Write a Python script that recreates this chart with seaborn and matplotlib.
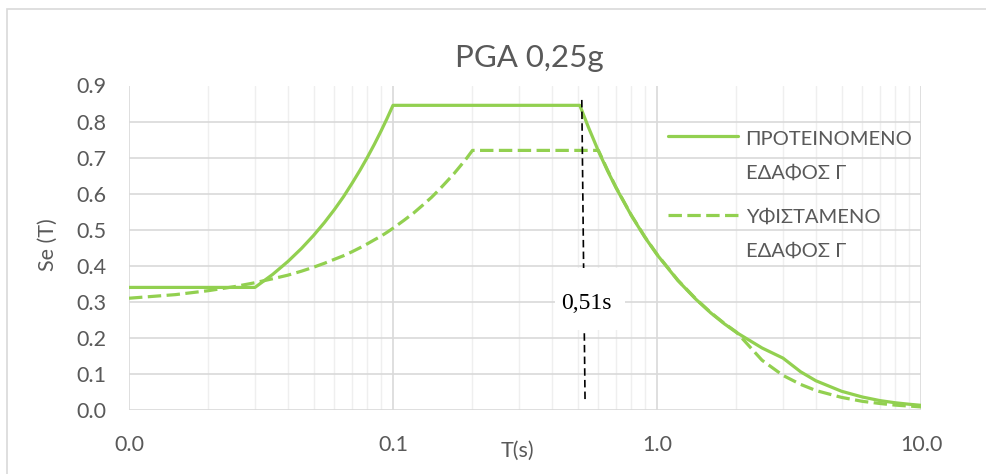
import numpy as np
import pandas as pd
import matplotlib
matplotlib.use("Agg")
import matplotlib.pyplot as plt
import seaborn as sns
from matplotlib.ticker import FixedLocator, LogLocator, NullFormatter, FixedFormatter
from matplotlib.legend_handler import HandlerLine2D
from matplotlib.patches import Rectangle

# ---------------- data ----------------
T_proposed = [0.01, 0.02, 0.03, 0.035, 0.04, 0.045, 0.05, 0.055, 0.06, 0.065, 0.07, 0.075, 0.08,
              0.085, 0.09, 0.095, 0.10, 0.20, 0.30, 0.40, 0.51, 0.55, 0.60, 0.65, 0.70, 0.80, 0.90,
              1.0, 1.2, 1.4, 1.6, 1.8, 2.0, 2.5, 3.0, 3.5, 4.0, 5.0, 6.0, 7.0, 8.0, 9.0, 10.0]
Se_proposed = [0.34, 0.34, 0.34, 0.376, 0.412, 0.448, 0.484, 0.520, 0.556, 0.592, 0.629, 0.665, 0.701,
               0.737, 0.773, 0.809, 0.845, 0.845, 0.845, 0.845, 0.845, 0.784, 0.718, 0.663, 0.616,
               0.539, 0.479, 0.431, 0.359, 0.308, 0.269, 0.239, 0.215, 0.172, 0.144, 0.106, 0.081,
               0.052, 0.036, 0.026, 0.020, 0.016, 0.013]

T_existing = [0.01, 0.015, 0.02, 0.025, 0.03, 0.035, 0.04, 0.045, 0.05, 0.055, 0.06, 0.065, 0.07,
              0.075, 0.08, 0.085, 0.09, 0.095, 0.10, 0.11, 0.12, 0.13, 0.14, 0.15, 0.16, 0.17, 0.18,
              0.19, 0.20, 0.30, 0.40, 0.50, 0.60, 0.65, 0.70, 0.80, 0.90, 1.0, 1.2, 1.4, 1.6, 1.8,
              2.0, 2.5, 3.0, 3.5, 4.0, 5.0, 6.0, 7.0, 8.0, 9.0, 10.0]
Se_existing = [0.310, 0.320, 0.331, 0.342, 0.353, 0.364, 0.374, 0.385, 0.396, 0.407, 0.418, 0.428,
               0.439, 0.450, 0.461, 0.472, 0.482, 0.493, 0.504, 0.526, 0.547, 0.569, 0.590, 0.612,
               0.634, 0.655, 0.677, 0.698, 0.72, 0.72, 0.72, 0.72, 0.72, 0.665, 0.617, 0.540, 0.480,
               0.432, 0.360, 0.309, 0.270, 0.240, 0.216, 0.138, 0.096, 0.071, 0.054, 0.035, 0.024,
               0.018, 0.0135, 0.011, 0.0086]

label_proposed = "ΠΡΟΤΕΙΝΟΜΕΝΟ\nΕΔΑΦΟΣ Γ"
label_existing = "ΥΦΙΣΤΑΜΕΝΟ\nΕΔΑΦΟΣ Γ"

marker_T = [0.519, 0.534]
marker_Se = [0.86, 0.02]
marker_text = "0,51s"
marker_text_T = 0.538
marker_text_Se = 0.296

x_ticks = [0.01, 0.1, 1.0, 10.0]
x_ticklabels = ["0.0", "0.1", "1.0", "10.0"]
y_ticks = [0.0, 0.1, 0.2, 0.3, 0.4, 0.5, 0.6, 0.7, 0.8, 0.9]

title = "PGA 0,25g"
xlabel = "T(s)"
ylabel = "Se (T)"

# ---------------- style ----------------
sns.set_theme(style="white")
plt.rcParams['font.family'] = ['Lato', 'Noto Sans', 'DejaVu Sans']
GREEN = "#92D050"
TXT = "#595959"
GRID = "#d9d9d9"
MINOR = "#efefef"

W, H = 987, 474
fig = plt.figure(figsize=(W / 100, H / 100), dpi=100)
ax = fig.add_axes([129 / W, 1 - 410 / H, (921 - 129) / W, (410 - 85.5) / H])

df_p = pd.DataFrame({"T": T_proposed, "Se": Se_proposed})
df_e = pd.DataFrame({"T": T_existing, "Se": Se_existing})

sns.lineplot(data=df_p, x="T", y="Se", ax=ax, color=GREEN, lw=2.3, sort=False,
             label=label_proposed, solid_joinstyle="round", zorder=3)
sns.lineplot(data=df_e, x="T", y="Se", ax=ax, color=GREEN, lw=2.3, sort=False,
             label=label_existing, zorder=3)
ax.lines[1].set_dashes((4.2, 1.7))
ax.lines[1].set_dash_capstyle("butt")

ax.set_xscale("log")
ax.set_xlim(0.01, 10)
ax.set_ylim(0, 0.9)

ax.xaxis.set_major_locator(FixedLocator(x_ticks))
ax.xaxis.set_major_formatter(FixedFormatter(x_ticklabels))
ax.xaxis.set_minor_locator(LogLocator(base=10, subs=np.arange(2, 10)))
ax.xaxis.set_minor_formatter(NullFormatter())
ax.set_yticks(y_ticks)
ax.set_yticklabels([f"{v:.1f}" for v in y_ticks])

ax.grid(True, which="major", axis="both", color=GRID, lw=1.2, zorder=0)
ax.grid(True, which="minor", axis="x", color=MINOR, lw=1.0, zorder=0)
ax.set_axisbelow(True)
for s in ax.spines.values():
    s.set_visible(False)

ax.tick_params(axis="both", which="both", length=0, labelsize=15.5, labelcolor=TXT)
ax.tick_params(axis="y", pad=16)
ax.tick_params(axis="x", pad=18)

ax.set_xlabel(xlabel, fontsize=15.5, color=TXT)
ax.set_ylabel(ylabel, fontsize=15.5, color=TXT)
ax.xaxis.label.set_va("center")
ax.yaxis.label.set_va("center")
ax.xaxis.set_label_coords((517 - 129) / 792, -(451 - 410) / 324.5)
ax.yaxis.set_label_coords((48 - 129) / 792, (410 - 245) / 324.5)

# vertical marker with white label box
ax.plot(marker_T, marker_Se, color="black", lw=1.2, dashes=(4.5, 2.5), zorder=4)
ax.add_patch(Rectangle(((555 - 129) / 792, (410 - 330) / 324.5), 70 / 792, 62 / 324.5,
                       transform=ax.transAxes, fc="white", ec="none", zorder=4.5))
ax.text(marker_text_T, marker_text_Se, marker_text, ha="center", va="center",
        fontsize=17, family=["Liberation Serif", "DejaVu Serif"], color="black", zorder=5)

# title
fig.text(529 / W, 1 - 67 / H, title, ha="center", va="baseline", fontsize=22.5, color=TXT)

# legend
class TopHandler(HandlerLine2D):
    def create_artists(self, legend, orig_handle, xdescent, ydescent, width, height, fontsize, trans):
        arts = super().create_artists(legend, orig_handle, xdescent, ydescent, width, height, fontsize, trans)
        for a in arts:
            a.set_ydata(np.asarray(a.get_ydata()) + 14.4)
        return arts

handles = ax.lines[:2]
leg = ax.legend(handles=handles, labels=[label_proposed, label_existing],
                loc="upper left", bbox_to_anchor=(668 / W, 1 - 131 / H),
                bbox_transform=fig.transFigure, frameon=False, fontsize=14.5,
                handlelength=3.5, handletextpad=0.35, labelspacing=1.36, borderpad=0,
                borderaxespad=0, handler_map={h: TopHandler() for h in handles})
for t in leg.get_texts():
    t.set_color(TXT)
    t.set_linespacing(2.2)

# chart border (cropped at right/bottom)
fig.add_artist(Rectangle((7.5 / W, -0.2), 2.0, 1.2 - 9 / H, transform=fig.transFigure,
                         fill=False, ec=GRID, lw=1.2))

fig.savefig("out.png", dpi=100)
